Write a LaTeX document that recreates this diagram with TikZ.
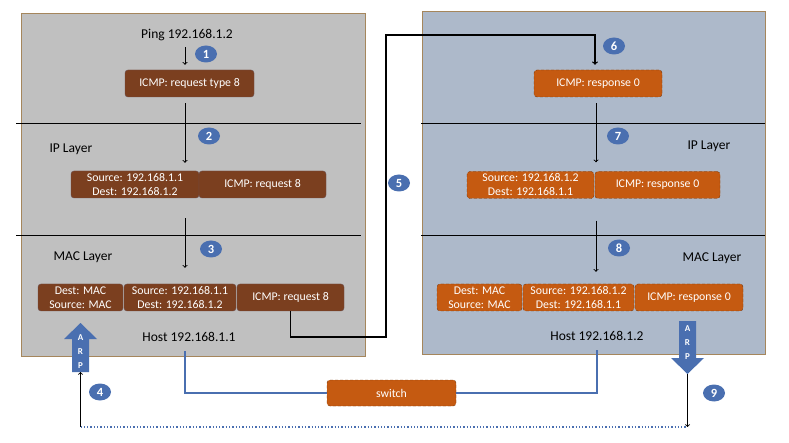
\documentclass[tikz,border=0pt]{standalone}
\usepackage{fontspec}
\setmainfont{Carlito}
\usetikzlibrary{shapes.geometric,positioning}
\definecolor{PanelGray}{HTML}{C0C0C0}
\definecolor{PanelBlue}{HTML}{ADB9CA}
\definecolor{PanelEdge}{HTML}{A5865C}
\definecolor{ReqBrown}{HTML}{7B3F1F}
\definecolor{RespOrange}{HTML}{C55A11}
\definecolor{BadgeBlue}{HTML}{4A6FB0}

\begin{document}
\begin{tikzpicture}[x=1pt,y=-1pt,
		PacketBox/.style={rounded corners=3pt, minimum height=27pt, inner sep=0pt, align=center, text=white, font=\fontsize{11.8}{14}\selectfont},
		ReqPacket/.style={PacketBox, fill=ReqBrown, draw=ReqBrown!70!BadgeBlue},
		RespPacket/.style={PacketBox, fill=RespOrange, draw=RespOrange!60!black, densely dashed},
		Badge/.style={ellipse, fill=BadgeBlue, minimum width=22pt, minimum height=17pt, inner sep=0pt, text=white, font=\bfseries\fontsize{12.5}{14}\selectfont},
		LayerText/.style={font=\fontsize{13.5}{16}\selectfont},
		ArpText/.style={align=center, text=white, inner sep=0pt, font=\bfseries\fontsize{9}{14}\selectfont},
		Flow/.style={->, line width=0.9pt},
		Wire/.style={BadgeBlue, line width=1.4pt}]
			\useasboundingbox (0,0) rectangle (789,443);
			\coordinate(AxisL) at (185,0);
			\coordinate(AxisR) at (596,0);
			\coordinate(LinkLow) at (386,337);
			\coordinate(LinkTop) at (595,35);
			
			% hosts
			\filldraw[fill=PanelGray, draw=PanelEdge] (21,13) rectangle (365,356);
			\filldraw[fill=PanelBlue, draw=PanelEdge] (422,11) rectangle (765,354);
			\draw (16,123) -- (361,123);
			\draw (16,235) -- (361,235);
			\draw (421,123) -- (765,123);
			\draw (421,235) -- (765,235);
			
			\node[LayerText] (PingText) at (187,35) {Ping 192.168.1.2};
			\node[LayerText, anchor=west] (IpTextL) at (46,149) {IP Layer};
			\node[LayerText, anchor=west] (MacTextL) at (50,257) {MAC Layer};
			\node[LayerText] (HostL) at (189,337) {Host 192.168.1.1};
			\node[LayerText, anchor=west] (IpTextR) at (684,146) {IP Layer};
			\node[LayerText, anchor=west] (MacTextR) at (679,258) {MAC Layer};
			\node[LayerText] (HostR) at (597,336) {Host 192.168.1.2};
			
			% request packets
			\node[ReqPacket, minimum width=129pt] (ReqBox) at (189.5,83.5) {ICMP: request type 8};
			\node[ReqPacket, minimum width=128pt] (IpAddrL) at (135,184.5) {Source: 192.168.1.1\\Dest: 192.168.1.2};
			\node[ReqPacket, minimum width=127pt] (IpIcmpL) at (262.5,184.5) {ICMP: request 8};
			\node[ReqPacket, minimum width=85pt] (MacL) at (80.5,297.5) {Dest: MAC\\Source: MAC};
			\node[ReqPacket, minimum width=112pt] (MacAddrL) at (180,297.5) {Source: 192.168.1.1\\Dest: 192.168.1.2};
			\node[ReqPacket, minimum width=107pt] (MacIcmpL) at (290.5,297.5) {ICMP: request 8};
			
			% response packets
			\node[RespPacket, minimum width=128pt] (RespBox) at (598,83.5) {ICMP: response 0};
			\node[RespPacket, minimum width=127pt] (IpAddrR) at (530.5,185) {Source: 192.168.1.2\\Dest: 192.168.1.1};
			\node[RespPacket, minimum width=125pt] (IpIcmpR) at (657.5,185) {ICMP: response 0};
			\node[RespPacket, minimum width=85pt] (MacR) at (479.5,297.5) {Dest: MAC\\Source: MAC};
			\node[RespPacket, minimum width=111pt] (MacAddrR) at (578.5,297.5) {Source: 192.168.1.2\\Dest: 192.168.1.1};
			\node[RespPacket, minimum width=108pt] (MacIcmpR) at (689,297.5) {ICMP: response 0};
			
			\draw[Flow, shorten <=3pt, shorten >=5pt] (PingText.south -| AxisL) -- (ReqBox.north -| AxisL);
			\draw[Flow, shorten <=6pt, shorten >=8pt] (ReqBox.south -| AxisL) -- (IpAddrL.north -| AxisL);
			\draw[Flow, shorten <=20pt, shorten >=16pt] (IpAddrL.south -| AxisL) -- (MacAddrL.north -| AxisL);
			\draw[Flow, line width=1.2pt, shorten >=5pt] (MacIcmpL.south) |- (LinkLow) |- (LinkTop) -- (RespBox.north -| LinkTop);
			\draw[Flow, shorten <=6pt, shorten >=9pt] (RespBox.south -| AxisR) -- (IpAddrR.north -| AxisR);
			\draw[Flow, shorten <=22pt, shorten >=12pt] (IpAddrR.south -| AxisR) -- (MacAddrR.north -| AxisR);
			
			% switch
			\node[RespPacket, minimum width=129pt, minimum height=26pt] (Switch) at (391.5,393) {switch};
			\draw[Wire, shorten <=6pt] (HostL.south -| AxisL) |- (Switch.west);
			\draw[Wire, shorten >=6pt] (Switch.east) -| (HostR.south);
			
			% arp
			\fill[BadgeBlue] (72,372) -- (72,339) -- (64,339) -- (80.5,323) -- (97,339) -- (89,339) -- (89,372) -- cycle;
			\node[ArpText] (ArpL) at (80.5,351.5) {A\\R\\P};
			\fill[BadgeBlue] (679,321) -- (696,321) -- (696,358) -- (704,358) -- (687.5,374) -- (671,358) -- (679,358) -- cycle;
			\node[ArpText] (ArpR) at (687.5,343) {A\\R\\P};
			\coordinate(ArpLFoot) at (80.5,372);
			\coordinate(ArpRTip) at (687.5,374);
			\coordinate(DotL) at (80.5,427);
			\coordinate(DotR) at (687.5,427);
			\draw[BadgeBlue, dotted, line width=1.3pt] (DotL) -- (DotR);
			\draw[Flow] (DotL) -- (ArpLFoot);
			\draw[Flow] (ArpRTip) -- (DotR);
			
			% steps
			\node[Badge] (StepA) at (206,54) {1};
			\node[Badge] (StepB) at (209,136) {2};
			\node[Badge] (StepC) at (211,249) {3};
			\node[Badge] (StepD) at (100,392) {4};
			\node[Badge] (StepE) at (399,183) {5};
			\node[Badge] (StepF) at (614,46) {6};
			\node[Badge] (StepG) at (618,136) {7};
			\node[Badge] (StepH) at (619,248) {8};
			\node[Badge] (StepI) at (714,393) {9};
		\end{tikzpicture}
\end{document}
